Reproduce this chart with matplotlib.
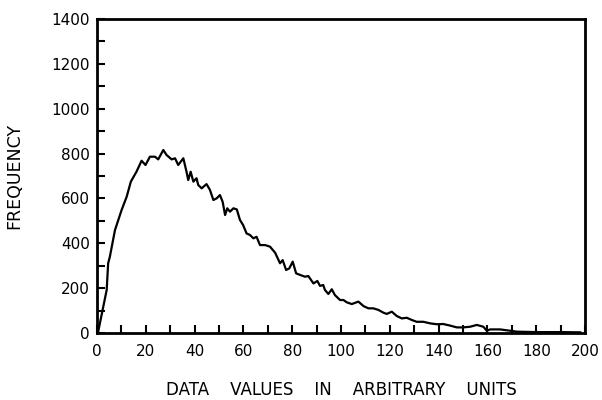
import numpy as np
import matplotlib.pyplot as plt
from matplotlib.ticker import MultipleLocator

# values
x = [0.5, 4.0, 4.6, 5.3, 7.4, 10.1, 12.2, 13.9, 16.2, 18.3, 19.9, 21.7, 23.8,
     25.1, 27.2, 28.5, 30.6, 32.0, 33.3, 35.4, 36.7, 37.4, 38.4, 39.5, 40.8,
     41.5, 42.9, 44.9, 46.3, 47.7, 49.0, 50.4, 51.5, 52.5, 53.4, 54.5, 55.9,
     57.3, 58.6, 59.9, 61.3, 62.7, 64.1, 65.4, 66.8, 68.9, 70.9, 73.0, 75.0,
     76.1, 77.5, 78.8, 80.2, 81.6, 83.2, 85.2, 86.6, 88.7, 90.3, 91.4, 92.7,
     93.4, 94.8, 96.2, 97.5, 99.6, 101.0, 102.3, 104.4, 107.1, 109.2, 111.2,
     113.2, 115.3, 117.3, 118.7, 120.8, 122.8, 124.9, 126.9, 129.0, 131.0,
     133.7, 136.5, 139.2, 141.9, 144.7, 147.4, 150.1, 152.9, 155.6, 158.3,
     159.7, 161.1, 165.2, 169.3, 172.0, 180.0, 190.0, 198.0]
freq = [5, 192, 311, 340, 459, 548, 608, 675, 719, 768, 749, 786, 786,
        774, 816, 794, 774, 779, 749, 779, 719, 682, 719, 675, 690,
        660, 645, 664, 638, 593, 600, 615, 585, 526, 556, 541, 556,
        551, 504, 481, 444, 437, 422, 429, 392, 392, 385, 358, 311,
        325, 281, 288, 318, 266, 259, 251, 254, 221, 232, 210, 214,
        192, 174, 195, 169, 147, 147, 137, 129, 140, 120, 110,
        110, 103, 91, 85, 95, 76, 65, 68, 58, 50,
        50, 43, 39, 40, 33, 25, 25, 28, 36, 28,
        10, 16, 16, 10, 6, 4, 4, 3]

plt.rcParams['font.family'] = 'DejaVu Sans'

fig = plt.figure(figsize=(6.02, 4.0), dpi=100)
ax = fig.add_axes([0.161, 0.1675, 0.811, 0.785])

ax.plot(x, freq, color='black', lw=1.6)

ax.set_xlim(0, 200)
ax.set_ylim(0, 1400)
ax.xaxis.set_major_locator(MultipleLocator(20))
ax.xaxis.set_minor_locator(MultipleLocator(10))
ax.yaxis.set_major_locator(MultipleLocator(200))
ax.yaxis.set_minor_locator(MultipleLocator(100))
ax.tick_params(which='both', direction='in', length=6, width=1.5,
               top=False, right=False)
ax.tick_params(axis='x', pad=8, labelsize=11)
ax.tick_params(axis='y', pad=5, labelsize=11)

for s in ax.spines.values():
    s.set_linewidth(2)

ax.set_xlabel('DATA    VALUES    IN    ARBITRARY    UNITS', fontsize=12, labelpad=16)
ax.set_ylabel('FREQUENCY', fontsize=12.5, labelpad=20)

fig.savefig('out.png', dpi=100)
